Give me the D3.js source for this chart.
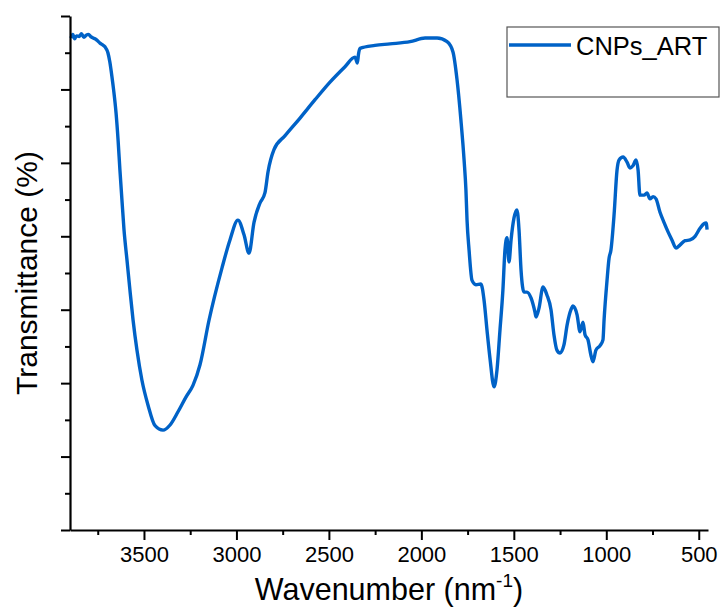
<!DOCTYPE html>
<html>
<head>
<meta charset="utf-8">
<script src="https://cdn.jsdelivr.net/npm/d3@7/dist/d3.min.js"></script>
<style>
  html, body { margin: 0; padding: 0; background: #fff; }
  svg { display: block; font-family: "Liberation Sans", Arial, sans-serif; }
</style>
</head>
<body>
<svg id="chart" width="724" height="608"></svg>
<script>
const seriesName = "CNPs_ART";
const wavenumber = [3895,3885,3875,3865,3850,3838,3825,3812,3800,3788,3775,3765,3750,3738,3725,3711,3695,3685,3673,3664,3651,3640,3630,3619,3608,3592,3576,3559,3538,3511,3478,3440,3397,3359,3316,3273,3235,3197,3148,3078,3035,2992,2959,2932,2905,2873,2846,2829,2797,2737,2656,2575,2494,2413,2359,2346,2340,2332,2251,2170,2061,1980,1915,1861,1829,1807,1786,1769,1759,1753,1742,1726,1705,1678,1661,1645,1629,1607,1591,1575,1559,1548,1537,1526,1515,1499,1483,1472,1461,1445,1429,1407,1386,1380,1364,1342,1321,1299,1283,1267,1250,1229,1212,1191,1180,1158,1142,1126,1115,1099,1083,1072,1056,1034,1018,1012,996,985,975,958,942,931,909,888,872,856,839,828,818,796,780,764,747,731,710,688,666,645,623,602,574,547,520,493,472,460,455];
const transmittance = [67.0,67.5,66.9,67.3,67.2,67.6,67.1,67.4,67.5,67.2,67.0,66.9,66.6,66.3,66.1,65.8,65.0,63.8,61.7,59.9,56.8,53.1,49.0,44.9,40.9,36.8,32.7,28.6,24.5,20.4,17.0,14.2,13.6,14.3,16.1,18.1,19.7,22.5,28.6,35.7,39.5,42.2,40.2,37.7,41.9,44.5,45.9,48.8,51.8,53.7,56.1,58.6,61.0,63.1,64.4,63.6,64.8,65.6,66.0,66.2,66.5,67.0,67.0,66.5,65.1,61.3,55.8,50.4,46.3,42.2,38.1,34.0,33.4,33.5,31.3,27.2,23.4,19.5,21.8,27.2,32.7,38.1,39.8,36.5,39.5,42.5,43.6,40.9,35.4,32.4,32.4,31.6,29.7,29.0,30.2,33.1,32.0,30.0,26.6,24.5,24.1,25.2,27.9,30.0,30.5,29.3,27.0,28.3,26.6,25.9,23.8,22.9,24.5,25.1,25.9,28.6,34.0,37.0,38.1,42.9,49.0,50.4,50.8,50.1,49.3,49.6,50.4,49.0,45.6,45.6,45.9,45.1,45.4,45.1,43.3,41.9,40.6,39.5,38.4,38.8,39.4,39.5,40.0,41.1,41.7,41.8,40.9];
const xMajorTicks = [3500,3000,2500,2000,1500,1000,500];
const xMinorTicks = [3750,3250,2750,2250,1750,1250,750];
const yMajorTicks = [0,10,20,30,40,50,60,70];
const yMinorTicks = [5,15,25,35,45,55,65];
const xTitle = "Wavenumber (nm";
const xTitleSup = "-1";
const yTitle = "Transmittance (%)";

(function () {
const svg = d3.select("#chart");
const mLeft = 70, mRight = 708, mTop = 16, mBottom = 530;
const x = d3.scaleLinear().domain([3900, 450]).range([mLeft, mRight]);
const y = d3.scaleLinear().domain([0, 70]).range([mBottom, mTop]);
const color = "#0062c7";

const data = wavenumber.map((w, i) => ({w, t: transmittance[i]}));
svg.append("path")
  .datum(data)
  .attr("fill", "none")
  .attr("stroke", color)
  .attr("stroke-width", 3.4)
  .attr("stroke-linejoin", "round")
  .attr("d", d3.line().x(d => x(d.w)).y(d => y(d.t)).curve(d3.curveMonotoneX));

function styleAxis(g) {
  g.selectAll("path.domain").attr("stroke", "#000").attr("stroke-width", 2.2);
  g.selectAll(".tick line").attr("stroke", "#000").attr("stroke-width", 2);
}
const gx = svg.append("g").attr("transform", `translate(0,${mBottom})`)
  .call(d3.axisBottom(x).tickValues(xMajorTicks).tickSize(10).tickSizeOuter(0).tickPadding(6).tickFormat(d3.format("d")));
styleAxis(gx);
gx.selectAll(".tick text").attr("font-size", 22).attr("fill", "#000").attr("font-family", "Liberation Sans, Arial, sans-serif");
const gxm = svg.append("g").attr("transform", `translate(0,${mBottom})`)
  .call(d3.axisBottom(x).tickValues(xMinorTicks).tickSize(5).tickSizeOuter(0).tickFormat(""));
gxm.select("path.domain").remove();
styleAxis(gxm);

const gy = svg.append("g").attr("transform", `translate(${mLeft},0)`)
  .call(d3.axisLeft(y).tickValues(yMajorTicks).tickSize(9).tickSizeOuter(0).tickFormat(""));
styleAxis(gy);
const gym = svg.append("g").attr("transform", `translate(${mLeft},0)`)
  .call(d3.axisLeft(y).tickValues(yMinorTicks).tickSize(5).tickSizeOuter(0).tickFormat(""));
gym.select("path.domain").remove();
styleAxis(gym);

const xt = svg.append("text")
  .attr("x", (mLeft + mRight) / 2).attr("y", 600)
  .attr("text-anchor", "middle").attr("font-size", 30.5).attr("fill", "#000");
xt.append("tspan").text(xTitle);
xt.append("tspan").attr("font-size", 19).attr("dy", -13).text(xTitleSup);
xt.append("tspan").attr("dy", 13).text(")");

svg.append("text")
  .attr("transform", `translate(37,${(mTop + mBottom) / 2}) rotate(-90)`)
  .attr("text-anchor", "middle").attr("font-size", 30).attr("fill", "#000")
  .text(yTitle);

const lg = svg.append("g");
lg.append("rect").attr("x", 507).attr("y", 27).attr("width", 212).attr("height", 70)
  .attr("fill", "#fff").attr("stroke", "#555").attr("stroke-width", 1.2);
lg.append("line").attr("x1", 509).attr("x2", 571).attr("y1", 45).attr("y2", 45)
  .attr("stroke", color).attr("stroke-width", 3.4);
lg.append("text").attr("x", 576).attr("y", 55).attr("font-size", 25.5).attr("fill", "#000").text(seriesName);
})();
</script>
</body>
</html>
